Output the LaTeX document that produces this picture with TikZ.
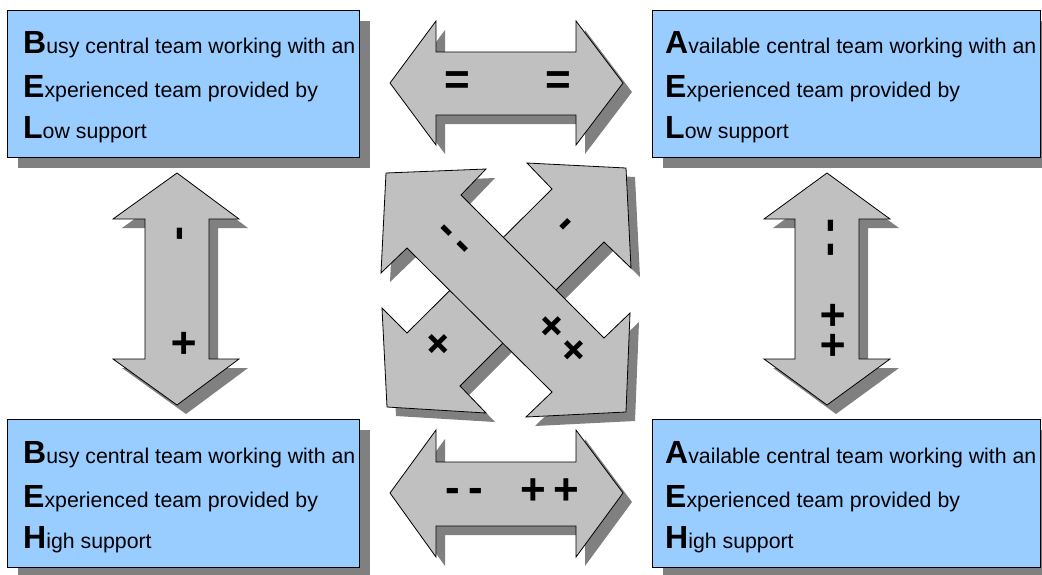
\documentclass[tikz,border=0pt]{standalone}
\usepackage{fontspec}
\setmainfont{Liberation Sans}
\newfontfamily\signfont{Liberation Sans}
\usetikzlibrary{shadows}
\definecolor{boxblue}{HTML}{99CCFF}
\definecolor{arrowgray}{HTML}{C0C0C0}
\definecolor{shadowgray}{HTML}{808080}
\newcommand\capinit[1]{{\fontsize{32}{32}\selectfont\bfseries #1}}
\newcommand\restline[1]{{\fontsize{21.3}{24}\selectfont #1}}
\begin{document}
\begin{tikzpicture}[x=1pt,y=-1pt,
  boxshade/.style={drop shadow={shadow xshift=11pt, shadow yshift=-11pt, opacity=1, fill=shadowgray}},
  infobox/.style={draw=black, line width=0.9pt, fill=boxblue, inner sep=0pt,
    minimum width=352pt, minimum height=147pt, anchor=north west, boxshade},
  arrowshade/.style={drop shadow={shadow xshift=9pt, shadow yshift=-9pt, opacity=1, fill=shadowgray}},
  blockarrow/.style={draw=black, line width=0.8pt, fill=arrowgray, line join=miter, arrowshade},
  line/.style={anchor=base west, inner sep=0pt},
  % signs: a thin box around the glyph's optical centre
  sign/.style={font=\signfont\bfseries\fontsize{44}{44}\selectfont, inner sep=0pt,
    text height=20.2pt, text depth=-18.2pt},
  dashsign/.style={sign, text height=16.4pt, text depth=-14.4pt}
]
\useasboundingbox (0,0) rectangle (1042,574);

% the four situation boxes
\node[infobox] (bel1) at (7,10) {};
\node[infobox, minimum width=388pt] (ael) at (652,10) {};
\node[infobox, minimum height=148pt] (beh) at (7,419) {};
\node[infobox, minimum width=388pt, minimum height=148pt] (aeh) at (652,419) {};

\node[line] (bel-a) at (23,53)  {\capinit{B}\restline{usy central team working with an}};
\node[line] (bel-b) at (23,97)  {\capinit{E}\restline{xperienced team provided by}};
\node[line] (bel-c) at (23,138) {\capinit{L}\restline{ow support}};

\node[line] (ael-a) at (665,53)  {\capinit{A}\restline{vailable central team working with an}};
\node[line] (ael-b) at (665,97)  {\capinit{E}\restline{xperienced team provided by}};
\node[line] (ael-c) at (665,138) {\capinit{L}\restline{ow support}};

\node[line] (beh-a) at (23,463) {\capinit{B}\restline{usy central team working with an}};
\node[line] (beh-b) at (23,507) {\capinit{E}\restline{xperienced team provided by}};
\node[line] (beh-c) at (23,548) {\capinit{H}\restline{igh support}};

\node[line] (aeh-a) at (665,463) {\capinit{A}\restline{vailable central team working with an}};
\node[line] (aeh-b) at (665,507) {\capinit{E}\restline{xperienced team provided by}};
\node[line] (aeh-c) at (665,548) {\capinit{H}\restline{igh support}};

% horizontal double arrows
\draw[blockarrow] (390,83) -- (436,21) -- (436,52) -- (576,52) -- (576,21) -- (623,83)
  -- (576,145) -- (576,115) -- (436,115) -- (436,145) -- cycle;
\draw[blockarrow] (390,493) -- (436,430) -- (436,462) -- (576,462) -- (576,430) -- (623,493)
  -- (576,557) -- (576,526) -- (436,526) -- (436,557) -- cycle;

% vertical double arrows
\draw[blockarrow] (177,173) -- (239,219) -- (209,219) -- (209,359) -- (239,359) -- (177,405)
  -- (113,359) -- (145,359) -- (145,219) -- (113,219) -- cycle;
\draw[blockarrow] (827,173) -- (890,219) -- (859,219) -- (859,359) -- (890,359) -- (827,405)
  -- (764,359) -- (795,359) -- (795,219) -- (764,219) -- cycle;

% diagonal double arrows: SW--NE behind, NW--SE in front
\draw[blockarrow] (626,168) -- (631,268) -- (604,242) -- (460,386) -- (486,413) -- (387,407)
  -- (382,308) -- (407,333) -- (552,189) -- (527,163) -- cycle;
\draw[blockarrow] (386,173) -- (486,169) -- (461,195) -- (604,338) -- (630,313) -- (626,412)
  -- (526,417) -- (552,392) -- (407,248) -- (381,273) -- cycle;

% signs on the arrows
\node[sign] (t1) at (457,84) {=};
\node[sign] (t2) at (558,84) {=};

\node[dashsign] (b1) at (452.5,494) {-};
\node[dashsign] (b2) at (475.5,494) {-};
\node[sign] (b3) at (533.7,494) {+};
\node[sign] (b4) at (566,494) {+};

\node[dashsign, rotate=-90] (l1) at (177,234) {-};
\node[sign, rotate=-90] (l2) at (179.5,343) {+};

\node[dashsign, rotate=-90] (r1) at (827.8,226) {-};
\node[dashsign, rotate=-90] (r2) at (827.8,250) {-};
\node[sign, rotate=-90] (r3) at (828.7,315) {+};
\node[sign, rotate=-90] (r4) at (828.7,345) {+};

\node[dashsign, rotate=-45] (d1) at (444.3,233) {-};
\node[dashsign, rotate=-45] (d2) at (460,249.3) {-};
\node[sign, rotate=-45] (d3) at (548.3,329.7) {+};
\node[sign, rotate=-45] (d4) at (571,353) {+};

\node[dashsign, rotate=45] (e1) at (567.7,226.3) {-};
\node[sign, rotate=45] (e2) at (441.7,347.7) {+};
\end{tikzpicture}
\end{document}
